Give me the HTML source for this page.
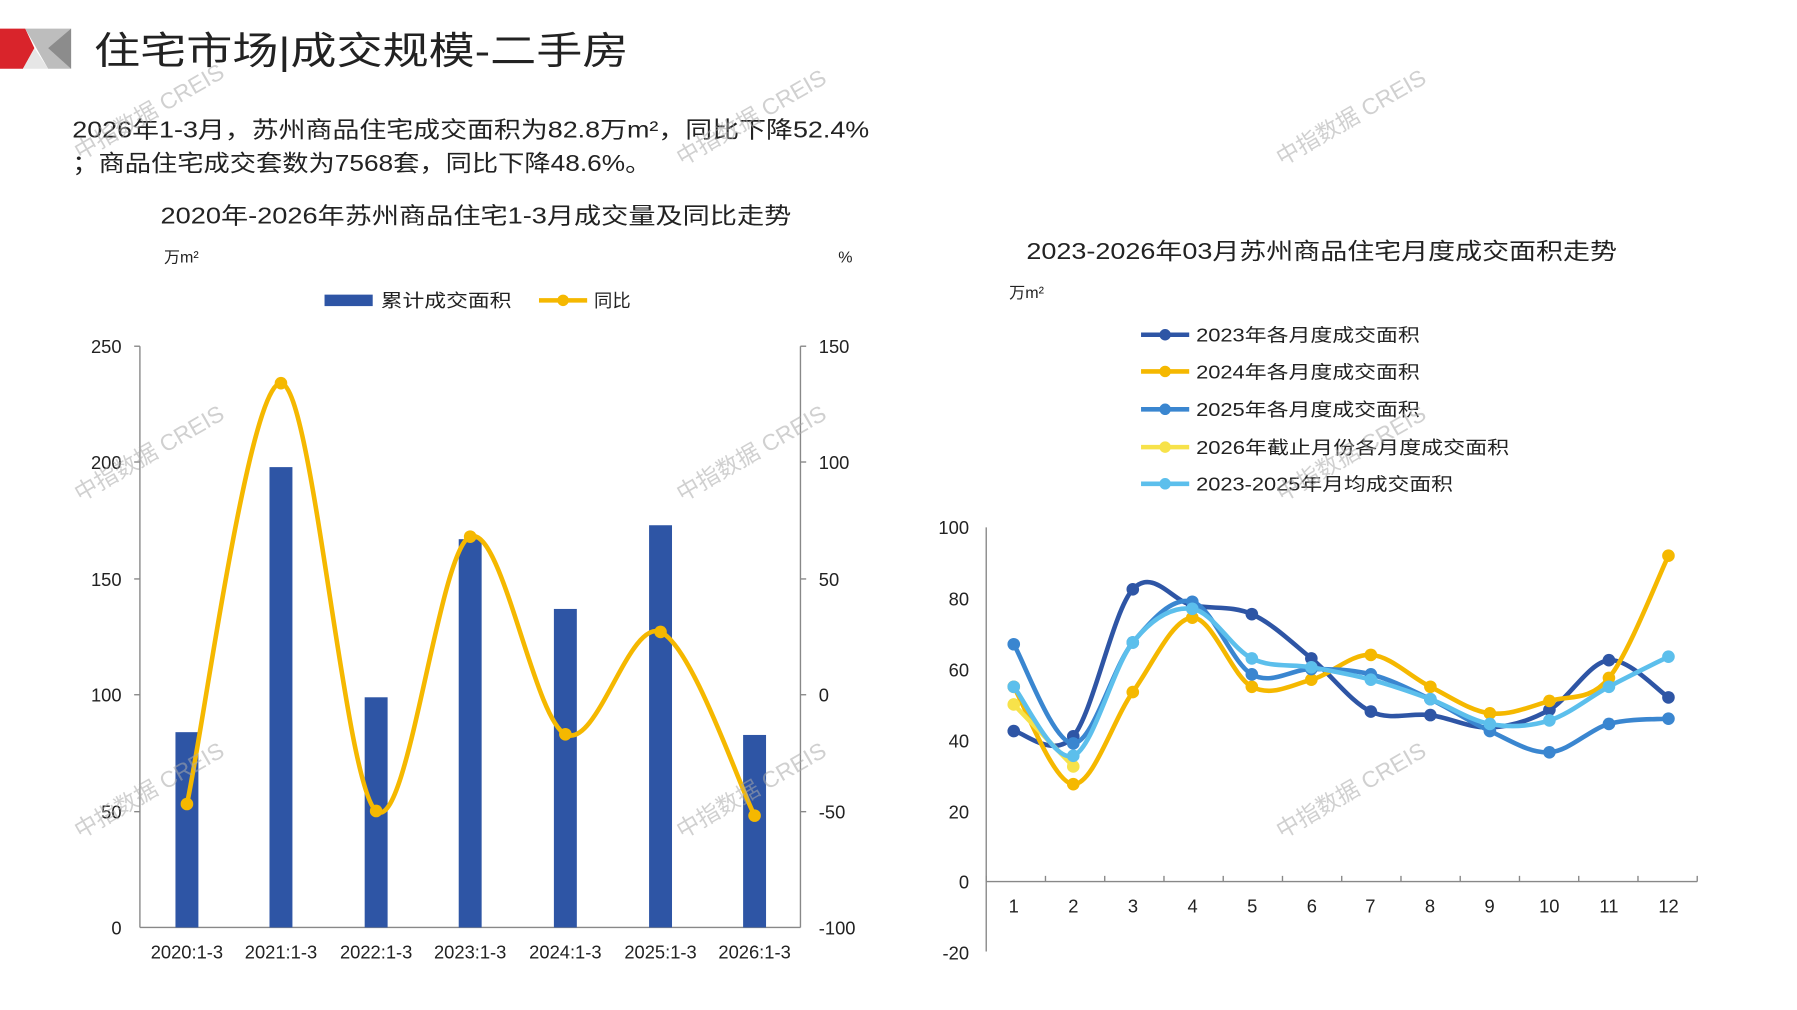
<!DOCTYPE html>
<html><head><meta charset="utf-8"><style>
html,body{margin:0;padding:0;background:#fff;}
svg{display:block;}
text{font-family:"Liberation Sans","Noto Sans CJK SC",sans-serif;fill:#222;}
</style></head><body>
<svg id="s" width="1797" height="1010" viewBox="0 0 1567 881" preserveAspectRatio="none" xmlns="http://www.w3.org/2000/svg">
<polygon points="0,25 22,25 30,42 20,60 0,60" fill="#d9242b"/>
<polygon points="22,25 62,25 62,60 42,60" fill="#bdbdbd"/>
<polygon points="20,60 30,42 42,60" fill="#e6e6e6"/>
<polygon points="42,42 62,25 62,60" fill="#8c8c8c"/>
<text x="82" y="56" font-size="33" fill="#111" textLength="466" lengthAdjust="spacingAndGlyphs">住宅市场|成交规模-二手房</text>
<text x="63" y="120" font-size="20" fill="#333" textLength="695" lengthAdjust="spacingAndGlyphs">2026年1-3月，苏州商品住宅成交面积为82.8万m²，同比下降52.4%</text>
<text x="63" y="149" font-size="20" fill="#333" textLength="505" lengthAdjust="spacingAndGlyphs">；商品住宅成交套数为7568套，同比下降48.6%。</text>
<text x="140" y="195" font-size="20" fill="#333" textLength="550" lengthAdjust="spacingAndGlyphs">2020年-2026年苏州商品住宅1-3月成交量及同比走势</text>
<text x="143" y="229" font-size="14">万m²</text>
<text x="731" y="229" font-size="14">%</text>
<rect x="283" y="257" width="42" height="10" fill="#2e55a5"/>
<text x="332" y="268" font-size="16" textLength="114" lengthAdjust="spacingAndGlyphs">累计成交面积</text>
<line x1="470" y1="262" x2="512" y2="262" stroke="#f5b800" stroke-width="4"/>
<circle cx="491" cy="262" r="5" fill="#f5b800"/>
<text x="518" y="268" font-size="16">同比</text>
<g stroke="#888" stroke-width="1.2" fill="none">
<line x1="122" y1="302" x2="122" y2="809"/>
<line x1="698" y1="302" x2="698" y2="809"/>
<line x1="122" y1="809" x2="698" y2="809"/>
<line x1="117" y1="302" x2="122" y2="302"/><line x1="117" y1="403" x2="122" y2="403"/><line x1="117" y1="505" x2="122" y2="505"/><line x1="117" y1="606" x2="122" y2="606"/><line x1="117" y1="708" x2="122" y2="708"/>
<line x1="698" y1="302" x2="703" y2="302"/><line x1="698" y1="403" x2="703" y2="403"/><line x1="698" y1="505" x2="703" y2="505"/><line x1="698" y1="606" x2="703" y2="606"/><line x1="698" y1="708" x2="703" y2="708"/>
</g>
<g font-size="16" text-anchor="end">
<text x="106" y="308">250</text><text x="106" y="409">200</text><text x="106" y="511">150</text><text x="106" y="612">100</text><text x="106" y="714">50</text><text x="106" y="815">0</text>
</g>
<g font-size="16">
<text x="714" y="308">150</text><text x="714" y="409">100</text><text x="714" y="511">50</text><text x="714" y="612">0</text><text x="714" y="714">-50</text><text x="714" y="815">-100</text>
</g>
<g font-size="16" text-anchor="middle">
<text x="163" y="836">2020:1-3</text><text x="245" y="836">2021:1-3</text><text x="328" y="836">2022:1-3</text><text x="410" y="836">2023:1-3</text><text x="493" y="836">2024:1-3</text><text x="576" y="836">2025:1-3</text><text x="658" y="836">2026:1-3</text>
</g>
<g id="bars" fill="#2e55a5"></g>
<g id="leftline"></g>
<text x="895" y="226" font-size="20" fill="#333" textLength="515" lengthAdjust="spacingAndGlyphs">2023-2026年03月苏州商品住宅月度成交面积走势</text>
<text x="880" y="260" font-size="14">万m²</text>
<g font-size="16">
<line x1="995" y1="292" x2="1037" y2="292" stroke="#2e55a5" stroke-width="4"/><circle cx="1016" cy="292" r="5" fill="#2e55a5"/><text x="1043" y="298" textLength="195" lengthAdjust="spacingAndGlyphs">2023年各月度成交面积</text>
<line x1="995" y1="324" x2="1037" y2="324" stroke="#f5b800" stroke-width="4"/><circle cx="1016" cy="324" r="5" fill="#f5b800"/><text x="1043" y="330" textLength="195" lengthAdjust="spacingAndGlyphs">2024年各月度成交面积</text>
<line x1="995" y1="357" x2="1037" y2="357" stroke="#3a86d0" stroke-width="4"/><circle cx="1016" cy="357" r="5" fill="#3a86d0"/><text x="1043" y="363" textLength="195" lengthAdjust="spacingAndGlyphs">2025年各月度成交面积</text>
<line x1="995" y1="390" x2="1037" y2="390" stroke="#f7e24a" stroke-width="4"/><circle cx="1016" cy="390" r="5" fill="#f7e24a"/><text x="1043" y="396" textLength="273" lengthAdjust="spacingAndGlyphs">2026年截止月份各月度成交面积</text>
<line x1="995" y1="422" x2="1037" y2="422" stroke="#5cbfec" stroke-width="4"/><circle cx="1016" cy="422" r="5" fill="#5cbfec"/><text x="1043" y="428" textLength="224" lengthAdjust="spacingAndGlyphs">2023-2025年月均成交面积</text>
</g>
<g stroke="#888" stroke-width="1.2" fill="none" id="raxes">
<line x1="860" y1="460" x2="860" y2="830"/>
<line x1="860" y1="769" x2="1480" y2="769"/>
</g>
<g font-size="16" text-anchor="end">
<text x="845" y="466">100</text><text x="845" y="528">80</text><text x="845" y="590">60</text><text x="845" y="652">40</text><text x="845" y="714">20</text><text x="845" y="775">0</text><text x="845" y="837">-20</text>
</g>
<g font-size="16" text-anchor="middle">
<text x="884" y="796">1</text><text x="936" y="796">2</text><text x="988" y="796">3</text><text x="1040" y="796">4</text><text x="1092" y="796">5</text><text x="1144" y="796">6</text><text x="1195" y="796">7</text><text x="1247" y="796">8</text><text x="1299" y="796">9</text><text x="1351" y="796">10</text><text x="1403" y="796">11</text><text x="1455" y="796">12</text>
</g>
<g id="rlines"></g>
<g font-size="20" opacity="0.55">
<text transform="translate(70,140) rotate(-30)" style="fill:#aaa">中指数据 CREIS</text>
<text transform="translate(595,145) rotate(-30)" style="fill:#aaa">中指数据 CREIS</text>
<text transform="translate(1118,145) rotate(-30)" style="fill:#aaa">中指数据 CREIS</text>
<text transform="translate(70,438) rotate(-30)" style="fill:#aaa">中指数据 CREIS</text>
<text transform="translate(595,438) rotate(-30)" style="fill:#aaa">中指数据 CREIS</text>
<text transform="translate(1118,438) rotate(-30)" style="fill:#aaa">中指数据 CREIS</text>
<text transform="translate(70,732) rotate(-30)" style="fill:#aaa">中指数据 CREIS</text>
<text transform="translate(595,732) rotate(-30)" style="fill:#aaa">中指数据 CREIS</text>
<text transform="translate(1118,732) rotate(-30)" style="fill:#aaa">中指数据 CREIS</text>
</g>
</svg>
<script>
var NS="http://www.w3.org/2000/svg";
function el(p,t,a){var e=document.createElementNS(NS,t);for(var k in a)e.setAttribute(k,a[k]);p.appendChild(e);return e;}
function smooth(pts){var d="M"+pts[0][0]+","+pts[0][1];for(var i=0;i<pts.length-1;i++){var p0=pts[i-1]||pts[i],p1=pts[i],p2=pts[i+1],p3=pts[i+2]||p2;var t=1/6;d+=" C"+(p1[0]+(p2[0]-p0[0])*t)+","+(p1[1]+(p2[1]-p0[1])*t)+" "+(p2[0]-(p3[0]-p1[0])*t)+","+(p2[1]-(p3[1]-p1[1])*t)+" "+p2[0]+","+p2[1];}return d;}
var bx=[163,245,328,410,493,576,658],bv=[84,198,99,167,137,173,82.8],lv=[-47,134,-50,68,-17,27,-52];
var bars=document.getElementById("bars");
bx.forEach(function(x,i){var y=809-bv[i]*507/250;el(bars,"rect",{x:x-10,y:y,width:20,height:809-y});});
var ll=document.getElementById("leftline");
var lp=bx.map(function(x,i){return [x,606-lv[i]*507/250];});
el(ll,"path",{d:smooth(lp),stroke:"#f5b800","stroke-width":4,fill:"none"});
lp.forEach(function(p){el(ll,"circle",{cx:p[0],cy:p[1],r:5.5,fill:"#f5b800"});});
var rl=document.getElementById("rlines"),ra=document.getElementById("raxes");
for(var k=0;k<=12;k++){var x=860+k*(620/12);el(ra,"line",{x1:x,y1:769,x2:x,y2:764});}
var series=[
["#2e55a5",[42.5,41,82.5,78,75.5,63,48,47,43.5,48.5,62.5,52]],
["#f5b800",[55,27.5,53.5,74.5,55,57,64,55,47.5,51,57.5,92]],
["#3a86d0",[67,39,67.5,79,58.5,60,58.5,51.5,42.5,36.5,44.5,46]],
["#f7e24a",[50,32.5]],
["#5cbfec",[55,35.5,67.5,77,63,60.5,57,51.5,44.5,45.5,55,63.5]]];
series.forEach(function(s){var pts=s[1].map(function(v,i){return [884+i*51.9,769-v*3.09];});
el(rl,"path",{d:smooth(pts),stroke:s[0],"stroke-width":4,fill:"none"});
pts.forEach(function(p){el(rl,"circle",{cx:p[0],cy:p[1],r:5.5,fill:s[0]});});});
</script>
</body></html>
